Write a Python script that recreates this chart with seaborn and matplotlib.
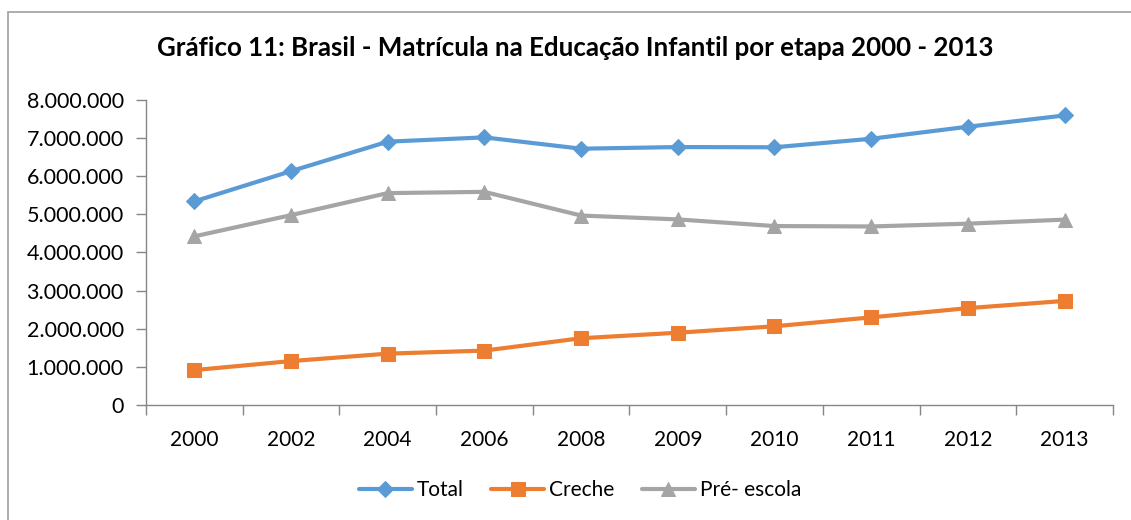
import numpy as np
import pandas as pd
import matplotlib
matplotlib.use("Agg")
import matplotlib.pyplot as plt
import matplotlib.ticker as mticker
from matplotlib.patches import Rectangle
import seaborn as sns

# ==============================
# DATA
# ==============================
anos = ["2000", "2002", "2004", "2006", "2008", "2009", "2010", "2011", "2012", "2013"]
total = [5338196, 6130358, 6903762, 7016095, 6719261, 6762631, 6756698, 6980052, 7295512, 7590600]
creche = [916864, 1152511, 1348237, 1427942, 1751736, 1896363, 2064653, 2298707, 2540791, 2730119]
pre_escola = [4421332, 4977847, 5555525, 5588153, 4967525, 4866268, 4692045, 4681345, 4754721, 4860481]

series = {
    "Total": (total, "#5B9BD5", "D", 8.5),
    "Creche": (creche, "#ED7D31", "s", 9.5),
    "Pré- escola": (pre_escola, "#A5A5A5", "^", 9.5),
}

# ==============================
# SETUP
# ==============================
sns.set_theme(style="white")
plt.rcParams["font.family"] = ["Lato", "DejaVu Sans"]
plt.rcParams["text.color"] = "black"
AXIS_GRAY = "#868686"

fig = plt.figure(figsize=(11.31, 5.2), dpi=100)
ax = fig.add_axes([0.129, 0.221, 0.855, 0.587])

# moldura do gráfico (cortada à direita e embaixo)
fig.patches.append(Rectangle((8 / 1131, -0.1), 1.2, (520 - 12) / 520 + 0.1,
                             transform=fig.transFigure, fill=False,
                             edgecolor="#A0A0A0", linewidth=1.2))

for nome, (vals, cor, mk, ms) in series.items():
    df = pd.DataFrame({"ano": anos, "valor": vals})
    sns.lineplot(data=df, x="ano", y="valor", ax=ax, sort=False, color=cor,
                 linewidth=3.0, marker=mk, markersize=ms, markeredgecolor=cor,
                 label=nome)

# ==============================
# EIXOS
# ==============================
ax.set_xlim(-0.5, len(anos) - 0.5)
ax.set_ylim(0, 8000000)
ax.yaxis.set_major_locator(mticker.MultipleLocator(1000000))
ax.yaxis.set_major_formatter(mticker.FuncFormatter(lambda v, p: f"{int(v):,}".replace(",", ".")))
ax.set_xticks(range(len(anos)))
ax.set_xticklabels(anos)
ax.set_xticks(np.arange(-0.5, len(anos)), minor=True)
ax.set_xlabel("")
ax.set_ylabel("")

for s in ["top", "right"]:
    ax.spines[s].set_visible(False)
for s in ["left", "bottom"]:
    ax.spines[s].set_color(AXIS_GRAY)
    ax.spines[s].set_linewidth(1.0)

ax.tick_params(axis="x", which="major", length=0, pad=18, labelsize=15, labelcolor="black")
ax.tick_params(axis="x", which="minor", length=7, width=1, color=AXIS_GRAY, direction="out", bottom=True)
ax.tick_params(axis="y", which="major", length=7, width=1, color=AXIS_GRAY, direction="out",
               left=True, pad=9, labelsize=15.5, labelcolor="black")

fig.text(0.509, 0.908, "Gráfico 11: Brasil - Matrícula na Educação Infantil por etapa 2000 - 2013",
         ha="center", va="center", fontsize=18.6, fontweight="bold", color="black")

leg = ax.legend(loc="center", bbox_to_anchor=(580 / 1131, (520 - 490) / 520),
                bbox_transform=fig.transFigure, ncol=3, frameon=False,
                fontsize=15, handlelength=2.55, columnspacing=1.3, handletextpad=0.25)
for t in leg.get_texts():
    t.set_color("black")

fig.savefig("out.png", dpi=100)
